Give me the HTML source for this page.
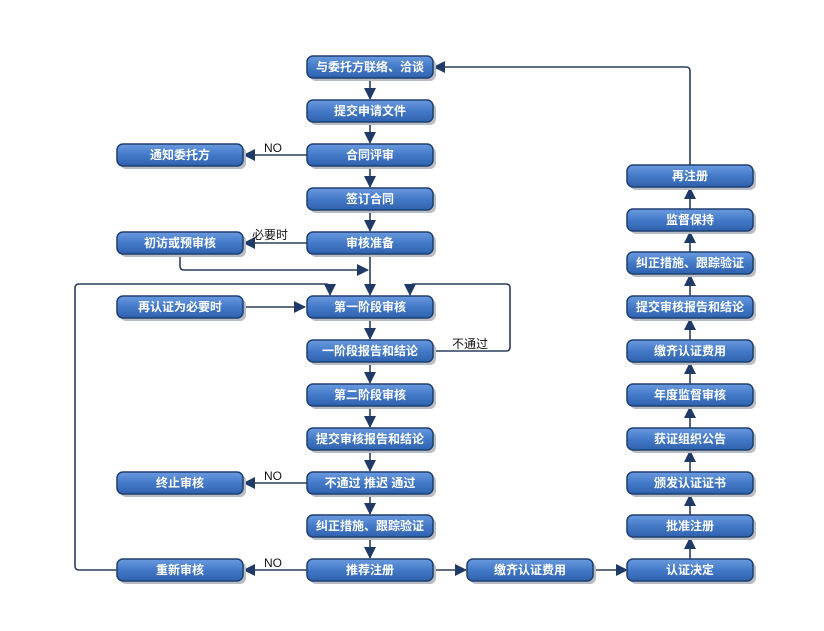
<!DOCTYPE html>
<html><head><meta charset="utf-8"><style>
html,body{margin:0;padding:0;background:#fff;}
svg text{font-family:"Liberation Sans","Noto Sans CJK SC",sans-serif;}
</style></head><body>
<svg width="824" height="626" viewBox="0 0 824 626" xmlns="http://www.w3.org/2000/svg">
<defs>
<linearGradient id="g" x1="0" y1="0" x2="0" y2="1">
<stop offset="0" stop-color="#6a9be0"/><stop offset="0.5" stop-color="#4479c8"/><stop offset="1" stop-color="#2f62ad"/>
</linearGradient>
<marker id="a" markerWidth="12" markerHeight="12" refX="11" refY="6" orient="auto" markerUnits="userSpaceOnUse">
<path d="M0,0 L12,6 L0,12 Z" fill="#1f3a66"/></marker>
</defs>
<g stroke="#2c3e5c" stroke-width="1.6" fill="none">
<line x1="370" y1="78" x2="370" y2="99" marker-end="url(#a)"/>
<line x1="370" y1="122" x2="370" y2="143" marker-end="url(#a)"/>
<line x1="370" y1="166" x2="370" y2="187" marker-end="url(#a)"/>
<line x1="370" y1="210" x2="370" y2="231" marker-end="url(#a)"/>
<line x1="370" y1="254" x2="370" y2="295" marker-end="url(#a)"/>
<line x1="370" y1="318" x2="370" y2="339" marker-end="url(#a)"/>
<line x1="370" y1="362" x2="370" y2="383" marker-end="url(#a)"/>
<line x1="370" y1="406" x2="370" y2="427" marker-end="url(#a)"/>
<line x1="370" y1="450" x2="370" y2="471" marker-end="url(#a)"/>
<line x1="370" y1="494" x2="370" y2="514" marker-end="url(#a)"/>
<line x1="370" y1="537" x2="370" y2="558" marker-end="url(#a)"/>
<line x1="307" y1="155" x2="244" y2="155" marker-end="url(#a)"/>
<line x1="307" y1="243" x2="244" y2="243" marker-end="url(#a)"/>
<line x1="243" y1="307" x2="305" y2="307" marker-end="url(#a)"/>
<line x1="307" y1="483" x2="244" y2="483" marker-end="url(#a)"/>
<line x1="307" y1="570" x2="244" y2="570" marker-end="url(#a)"/>
<path d="M180,254 V266 Q180,270 184,270 H368" marker-end="url(#a)"/>
<path d="M117,570 H79 Q75,570 75,566 V288 Q75,284 79,284 H326 Q330,284 330,288 V295" marker-end="url(#a)"/>
<path d="M432,351 H506 Q510,351 510,347 V288 Q510,284 506,284 H414 Q410,284 410,288 V295" marker-end="url(#a)"/>
<line x1="432" y1="570" x2="466" y2="570" marker-end="url(#a)"/>
<line x1="593" y1="570" x2="627" y2="570" marker-end="url(#a)"/>
<line x1="690" y1="559" x2="690" y2="538" marker-end="url(#a)"/>
<line x1="690" y1="515" x2="690" y2="495" marker-end="url(#a)"/>
<line x1="690" y1="472" x2="690" y2="451" marker-end="url(#a)"/>
<line x1="690" y1="428" x2="690" y2="407" marker-end="url(#a)"/>
<line x1="690" y1="384" x2="690" y2="363" marker-end="url(#a)"/>
<line x1="690" y1="340" x2="690" y2="319" marker-end="url(#a)"/>
<line x1="690" y1="296" x2="690" y2="275" marker-end="url(#a)"/>
<line x1="690" y1="252" x2="690" y2="232" marker-end="url(#a)"/>
<line x1="690" y1="209" x2="690" y2="188" marker-end="url(#a)"/>
<path d="M690,165 V71 Q690,67 686,67 H434" marker-end="url(#a)"/>
</g>
<g font-size="12" fill="#111">
<text x="264" y="152">NO</text>
<text x="252" y="239">必要时</text>
<text x="452" y="348">不通过</text>
<text x="264" y="480">NO</text>
<text x="264" y="567">NO</text>
</g>
<g id="boxes" stroke="#1f3f6e" stroke-width="1.5" fill="url(#g)">
</g>
<g font-size="12" font-weight="bold" fill="#fff" text-anchor="middle" stroke="none">
</g>
<script>
var B=[[370,67,"与委托方联络、洽谈"],[370,111,"提交申请文件"],[180,155,"通知委托方"],[370,155,"合同评审"],[370,199,"签订合同"],[180,243,"初访或预审核"],[370,243,"审核准备"],[180,307,"再认证为必要时"],[370,307,"第一阶段审核"],[370,351,"一阶段报告和结论"],[370,395,"第二阶段审核"],[370,439,"提交审核报告和结论"],[180,483,"终止审核"],[370,483,"不通过 推迟 通过"],[370,526,"纠正措施、跟踪验证"],[180,570,"重新审核"],[370,570,"推荐注册"],[530,570,"缴齐认证费用"],[690,570,"认证决定"],[690,526,"批准注册"],[690,483,"颁发认证证书"],[690,439,"获证组织公告"],[690,395,"年度监督审核"],[690,351,"缴齐认证费用"],[690,307,"提交审核报告和结论"],[690,263,"纠正措施、跟踪验证"],[690,220,"监督保持"],[690,176,"再注册"]];
var ns="http://www.w3.org/2000/svg",g=document.getElementById("boxes"),t=g.nextElementSibling;
B.forEach(function(b){
 var s=document.createElementNS(ns,"rect");s.setAttribute("x",b[0]-60);s.setAttribute("y",b[1]-8);s.setAttribute("width",126);s.setAttribute("height",22);s.setAttribute("rx",6);s.setAttribute("fill","#b8bcc4");s.setAttribute("stroke","none");g.appendChild(s);
 var r=document.createElementNS(ns,"rect");r.setAttribute("x",b[0]-63);r.setAttribute("y",b[1]-11);r.setAttribute("width",126);r.setAttribute("height",22);r.setAttribute("rx",6);g.appendChild(r);
 var x=document.createElementNS(ns,"text");x.setAttribute("x",b[0]);x.setAttribute("y",b[1]+4);x.textContent=b[2];t.appendChild(x);
});
</script>
</svg>
</body></html>
